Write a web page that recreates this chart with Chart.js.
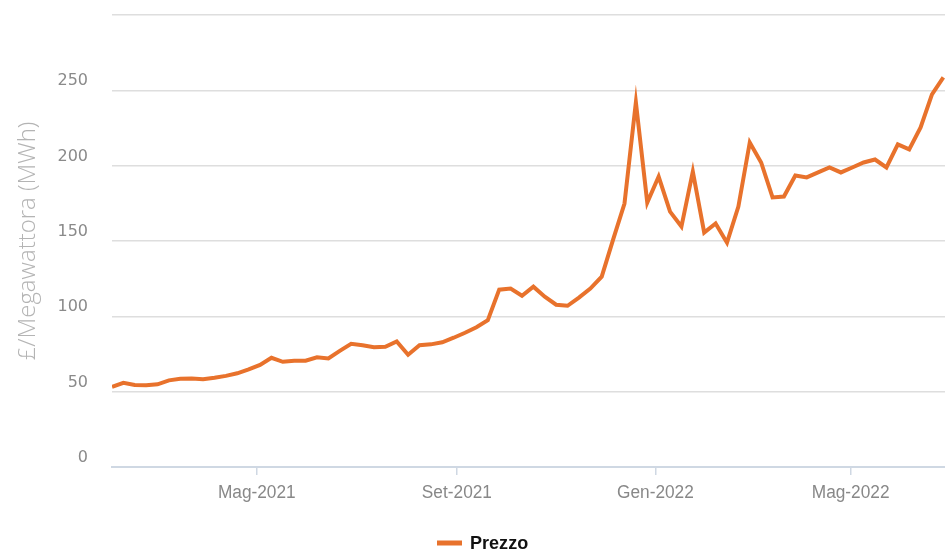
<!DOCTYPE html>
<html>
<head>
<meta charset="utf-8">
<script src="https://cdn.jsdelivr.net/npm/chart.js@4.4.1/dist/chart.umd.min.js"></script>
<style>
  html, body { margin: 0; padding: 0; background: #fff; }
  #wrap { width: 945px; height: 556px; }
</style>
</head>
<body>
<div id="wrap"><canvas id="chart"></canvas></div>
<script>
// prezzo settimanale, primo valore al 1 feb 2021
const startDate = '2021-02-01';
const prezzo = [
  53.2, 55.9, 54.5, 54.2, 54.9, 57.5, 58.5, 58.8, 58.2, 59.2,
  60.5, 62.2, 64.8, 67.8, 72.5, 69.8, 70.5, 70.5, 72.8, 72.1,
  77.1, 81.8, 80.8, 79.5, 79.8, 83.4, 74.5, 80.8, 81.4, 82.8,
  85.8, 89.1, 92.8, 97.4, 117.7, 118.4, 113.7, 119.7, 113, 107.7,
  107, 112.4, 118.4, 126.3, 150.9, 174.9, 242, 175.5, 192.8, 169.5,
  159.6, 196.1, 155.6, 161.6, 148.9, 172.9, 215.4, 202.1, 178.9, 179.5,
  193.5, 192.2, 195.5, 198.8, 195.5, 198.8, 202.1, 204.1, 198.8, 214.1,
  210.8, 225.4, 247.3, 258.6
];
const tickDates = ['2021-05-01', '2021-09-01', '2022-01-01', '2022-05-01'];
const tickLabels = ['Mag-2021', 'Set-2021', 'Gen-2022', 'Mag-2022'];

const DAY = 86400000;
const dayOf = d => Math.round((new Date(d) - new Date(startDate)) / DAY);
const tickDays = tickDates.map(dayOf);
const points = prezzo.map((v, i) => ({ x: i * 7, y: v }));

const orange = '#E8722C';

// etichette asse x e legenda disegnate a mano (carattere un po' stretto)
const narrowText = {
  id: 'narrowText',
  afterDraw(chart) {
    const ctx = chart.ctx;
    const xs = chart.scales.x;

    ctx.save();
    ctx.fillStyle = '#888';
    ctx.font = '18px "Liberation Sans", Arial, sans-serif';
    ctx.textAlign = 'center';
    ctx.textBaseline = 'middle';
    tickDays.forEach((d, i) => {
      const px = xs.getPixelForValue(d);
      ctx.save();
      ctx.translate(px, xs.top + 26);
      ctx.scale(0.96, 1);
      ctx.fillText(tickLabels[i], 0, 0);
      ctx.restore();
    });
    ctx.restore();

    // legenda
    const label = chart.data.datasets[0].label;
    ctx.save();
    ctx.font = 'bold 19px "Liberation Sans", Arial, sans-serif';
    const sq = 0.95;
    const w = ctx.measureText(label).width * sq;
    const markW = 25, gap = 8;
    const x0 = 437;
    const y = chart.height - 13;
    ctx.fillStyle = orange;
    ctx.fillRect(x0, y - 2.5, markW, 5);
    ctx.fillStyle = '#111';
    ctx.textBaseline = 'middle';
    ctx.translate(x0 + markW + gap, y);
    ctx.scale(sq, 1);
    ctx.fillText(label, 0, 1);
    ctx.restore();
  }
};

new Chart(document.getElementById('chart'), {
  type: 'line',
  data: {
    datasets: [{
      label: 'Prezzo',
      data: points,
      borderColor: orange,
      backgroundColor: orange,
      borderWidth: 4,
      pointRadius: 0,
      tension: 0
    }]
  },
  options: {
    responsive: true,
    maintainAspectRatio: false,
    animation: false,
    layout: { padding: { top: 15, right: 0, left: 0, bottom: 0 } },
    plugins: {
      tooltip: { enabled: false },
      legend: { display: false }
    },
    scales: {
      x: {
        type: 'linear',
        min: 0,
        max: 512,
        afterBuildTicks: s => { s.ticks = tickDays.map(v => ({ value: v })); },
        afterFit: s => { s.height = 89; s.paddingLeft = 0; s.paddingRight = 0; },
        ticks: { display: false },
        grid: { drawOnChartArea: false, drawTicks: true, tickLength: 8, color: '#cfd8e3', lineWidth: 1.5 },
        border: { color: '#cfd8e3', width: 2 }
      },
      y: {
        min: 0,
        max: 300,
        afterFit: s => { s.width = 112; s.paddingTop = 0; s.paddingBottom = 0; },
        ticks: {
          stepSize: 50,
          padding: 24,
          labelOffset: -9,
          color: '#8a8a8a',
          font: { family: 'DejaVu Sans', size: 16 },
          callback: v => v === 300 ? '' : v
        },
        grid: { drawTicks: false, color: '#dedede', lineWidth: 1.5 },
        border: { display: false },
        title: {
          display: true,
          text: '£/Megawattora (MWh)',
          color: '#b4b4b4',
          font: { family: 'Open Sans', size: 24, weight: '300' },
          padding: { top: 14, bottom: 0 }
        }
      }
    }
  },
  plugins: [narrowText]
});
</script>
</body>
</html>
